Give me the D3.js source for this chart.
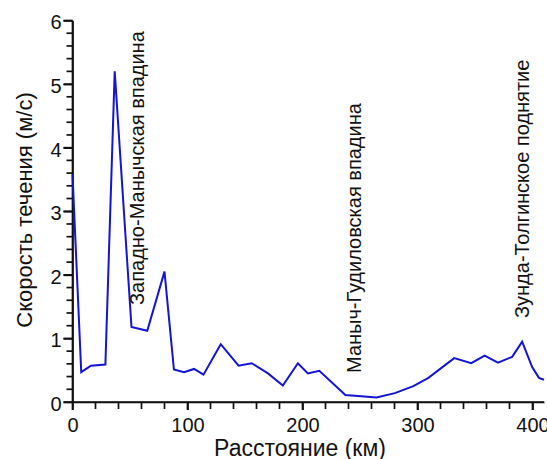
<!DOCTYPE html>
<html>
<head>
<meta charset="utf-8">
<script src="https://cdn.jsdelivr.net/npm/d3@7"></script>
<style>
  html, body { margin: 0; padding: 0; background: #fff; }
  svg { display: block; }
  text { font-family: "Liberation Sans", Arial, sans-serif; fill: #111; }
</style>
</head>
<body>
<svg id="chart" width="547" height="459"></svg>
<script>
// Data
const distanceKm = [0, 7.6, 16, 28.6, 36.7, 51.3, 65, 80, 88.2, 97, 105.7, 113.9, 128.9, 144.4, 155.8, 170, 182.9, 196, 204.7, 214.6, 237.3, 264.4, 280.3, 296.4, 309.5, 331.9, 346.7, 358.4, 370, 382.3, 391, 399.7, 405.6, 410];
const speed = [3.58, 0.47, 0.57, 0.59, 5.2, 1.18, 1.12, 2.05, 0.51, 0.47, 0.52, 0.43, 0.91, 0.57, 0.61, 0.45, 0.26, 0.61, 0.45, 0.49, 0.11, 0.07, 0.14, 0.25, 0.38, 0.69, 0.61, 0.73, 0.62, 0.71, 0.95, 0.55, 0.38, 0.35];
const xTicks = [0, 100, 200, 300, 400];
const yTicks = [0, 1, 2, 3, 4, 5, 6];
const annotations = ["Западно-Манычская впадина", "Маныч-Гудиловская впадина", "Зунда-Толгинское поднятие"];
const annotationKm = [62, 251, 397];
const annotationStart = [305, 373, 318];
const xTitle = "Расстояние (км)";
const yTitle = "Скорость течения (м/с)";

const svg = d3.select("#chart");
const x = d3.scaleLinear().domain([0, 410]).range([72.5, 544]);
const y = d3.scaleLinear().domain([0, 6]).range([402, 20.5]);

const xMinor = d3.range(0, 411, 20);
const yMinor = d3.range(0, 31).map(i => i * 0.2);

// tick labels via d3 axes
const gx = svg.append("g").attr("transform", `translate(0,${y(0)})`);
gx.call(d3.axisBottom(x).tickValues(xTicks).tickSize(8).tickPadding(8).tickSizeOuter(0).tickFormat(d3.format("d")));
const gy = svg.append("g").attr("transform", `translate(${x(0)},0)`);
gy.call(d3.axisLeft(y).tickValues(yTicks).tickSize(9).tickPadding(2).tickSizeOuter(0).tickFormat(d3.format("d")));

svg.selectAll(".domain").attr("stroke", "#111").attr("stroke-width", 1.7);
svg.selectAll(".tick line").attr("stroke", "#111").attr("stroke-width", 1.7);
svg.selectAll(".tick text").attr("font-size", 20).attr("font-family", "Liberation Sans, Arial, sans-serif").attr("fill", "#111");
gy.selectAll(".tick text").attr("dy", "0.42em");

// minor tick marks
const tickG = svg.append("g").attr("stroke", "#111").attr("stroke-width", 1.7);
tickG.selectAll("line.xt").data(xMinor).join("line").attr("class", "xt")
  .attr("x1", d => x(d)).attr("x2", d => x(d))
  .attr("y1", y(0)).attr("y2", d => y(0) + (d % 100 === 0 ? 8 : 7));
tickG.selectAll("line.yt").data(yMinor).join("line").attr("class", "yt")
  .attr("y1", d => y(d)).attr("y2", d => y(d))
  .attr("x1", x(0)).attr("x2", (d, i) => x(0) - (i % 5 === 0 ? 9 : 6));
tickG.append("line").attr("x1", x(0)).attr("x2", x(410)).attr("y1", y(0)).attr("y2", y(0));
tickG.append("line").attr("x1", x(0)).attr("x2", x(0)).attr("y1", y(0)).attr("y2", y(6));

// line
const line = d3.line().x((d, i) => x(distanceKm[i])).y((d, i) => y(speed[i]));
svg.append("path")
  .datum(speed)
  .attr("d", line)
  .attr("fill", "none")
  .attr("stroke", "#1414d8")
  .attr("stroke-width", 2)
  .attr("stroke-linejoin", "miter");

// axis titles
svg.append("text").attr("x", 300).attr("y", 456).attr("text-anchor", "middle").attr("font-size", 23).text(xTitle);
svg.append("text").attr("transform", `translate(32,210) rotate(-90)`).attr("text-anchor", "middle").attr("font-size", 22).text(yTitle);

// annotations
annotations.forEach((t, i) => {
  const ax = x(annotationKm[i]);
  svg.append("text")
    .attr("transform", `translate(${ax},${annotationStart[i]}) rotate(-90)`)
    .attr("font-size", 20)
    .text(t);
});
</script>
</body>
</html>
